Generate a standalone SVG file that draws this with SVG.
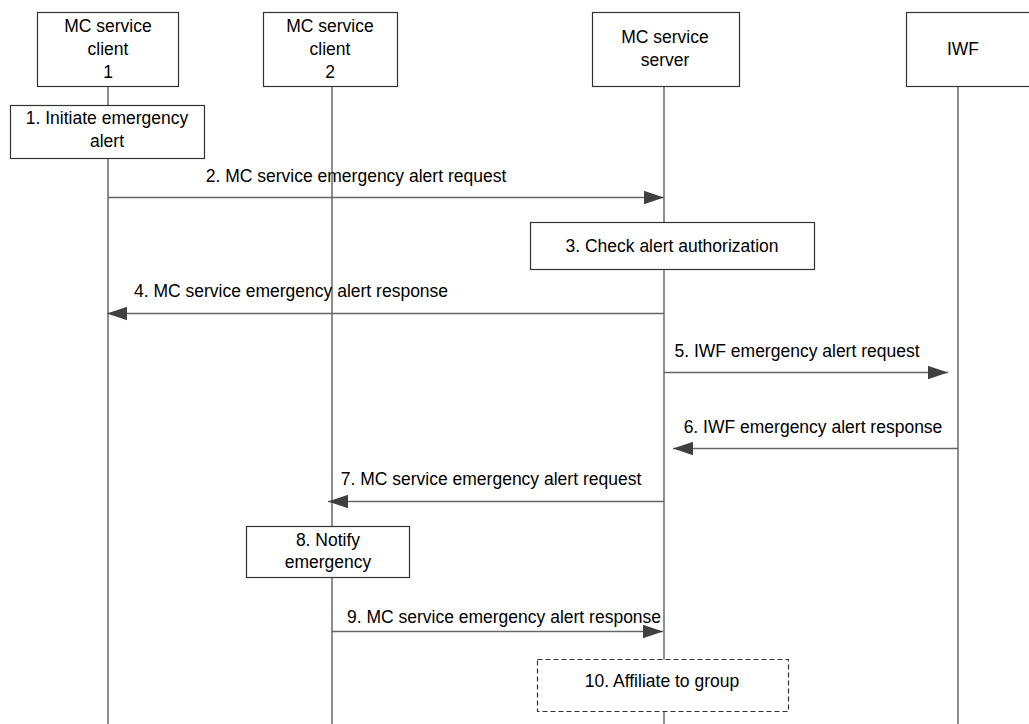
<svg xmlns="http://www.w3.org/2000/svg" width="1029" height="724" viewBox="0 0 1029 724">
<style>
text{font-family:"Liberation Sans",Arial,sans-serif;font-size:17.5px;fill:#000;text-anchor:middle}
.box{fill:#fff;stroke:#333;stroke-width:1.2}
.dash{fill:#fff;stroke:#333;stroke-width:1.2;stroke-dasharray:5,3}
.life{stroke:#444;stroke-width:1.2;fill:none}
.msg{stroke:#666;stroke-width:1.5;fill:none;marker-end:url(#ah)}
</style>
<defs>
<marker id="ah" markerUnits="userSpaceOnUse" markerWidth="20" markerHeight="14" refX="20" refY="7" orient="auto">
<path d="M0,0.3 L20,7 L0,13.7 z" fill="#404040"/>
</marker>
</defs>
<rect width="1029" height="724" fill="#fff"/>
<g id="lifelines">
<line class="life" x1="108" y1="86" x2="108" y2="724"/>
<line class="life" x1="332" y1="86" x2="332" y2="724"/>
<line class="life" x1="664" y1="86" x2="664" y2="724"/>
<line class="life" x1="958" y1="86" x2="958" y2="724"/>
</g>
<g id="client1">
<rect class="box" x="37.5" y="12.5" width="141" height="74"/>
<text x="108" y="32">MC service</text>
<text x="108" y="55">client</text>
<text x="108" y="78">1</text>
</g>
<g id="client2">
<rect class="box" x="263.5" y="12.5" width="134" height="74"/>
<text x="330" y="32">MC service</text>
<text x="330" y="55">client</text>
<text x="330" y="78">2</text>
</g>
<g id="server">
<rect class="box" x="592.5" y="12.5" width="147" height="74"/>
<text x="665" y="43">MC service</text>
<text x="665" y="66">server</text>
</g>
<g id="iwf">
<rect class="box" x="906.5" y="12.5" width="130" height="74"/>
<text x="963" y="55">IWF</text>
</g>
<g id="step1">
<rect class="box" x="10.5" y="105.5" width="194" height="53"/>
<text x="107" y="124">1. Initiate emergency</text>
<text x="107" y="147">alert</text>
</g>
<g id="step3">
<rect class="box" x="530.5" y="222.5" width="284" height="47"/>
<text x="672" y="252">3. Check alert authorization</text>
</g>
<g id="step8">
<rect class="box" x="246.5" y="526.5" width="163" height="51"/>
<text x="328" y="546">8. Notify</text>
<text x="328" y="568">emergency</text>
</g>
<g id="step10">
<rect class="dash" x="537.5" y="659.5" width="251" height="52"/>
<text x="662" y="687">10. Affiliate to group</text>
</g>
<g id="connectors">
<line class="msg" x1="108" y1="197.5" x2="664" y2="197.5"/>
<text x="356" y="182">2. MC service emergency alert request</text>
<line class="msg" x1="664" y1="313.5" x2="107" y2="313.5"/>
<text x="291" y="297">4. MC service emergency alert response</text>
<line class="msg" x1="664" y1="372.5" x2="948" y2="372.5"/>
<text x="797" y="357">5. IWF emergency alert request</text>
<line class="msg" x1="958" y1="448.5" x2="673" y2="448.5"/>
<text x="813" y="433">6. IWF emergency alert response</text>
<line class="msg" x1="664" y1="501.5" x2="328" y2="501.5"/>
<text x="491" y="485">7. MC service emergency alert request</text>
<line class="msg" x1="332" y1="631.5" x2="663" y2="631.5"/>
<text x="504" y="623">9. MC service emergency alert response</text>
</g>
</svg>
